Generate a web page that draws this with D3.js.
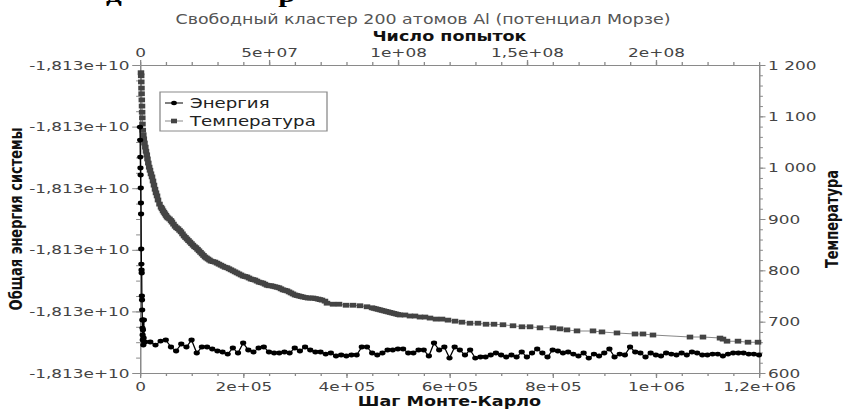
<!DOCTYPE html>
<html>
<head>
<meta charset="utf-8">
<script src="https://d3js.org/d3.v7.min.js"></script>
<style>
  body { margin: 0; background: white; }
  svg { display: block; }
</style>
</head>
<body>
<script>
// ---- data ----
const energySteps = [0, 300, 600, 900, 1200, 1500, 1800, 2100, 2400, 2700, 3000, 3300, 3600, 3900, 4200, 4500, 4800, 5100, 5400, 5700, 6000, 6500, 7000, 7500, 8000,
  10000, 20000, 30000, 40000, 50000, 60000, 70000, 80000, 90000, 100000,
  110000, 120000, 130000, 140000, 150000, 160000, 170000, 180000, 190000, 200000,
  210000, 220000, 230000, 240000, 250000, 260000, 270000, 280000, 290000, 300000,
  310000, 320000, 330000, 340000, 350000, 360000, 370000, 380000, 390000, 400000,
  410000, 420000, 430000, 440000, 450000, 460000, 470000, 480000, 490000, 500000,
  510000, 520000, 530000, 540000, 550000, 560000, 570000, 580000, 590000, 600000,
  610000, 620000, 630000, 640000, 650000, 660000, 670000, 680000, 690000, 700000,
  710000, 720000, 730000, 740000, 750000, 760000, 770000, 780000, 790000, 800000,
  810000, 820000, 830000, 840000, 850000, 860000, 870000, 880000, 890000, 900000,
  910000, 920000, 930000, 940000, 950000, 960000, 970000, 980000, 990000, 1000000,
  1010000, 1020000, 1030000, 1040000, 1050000, 1060000, 1070000, 1080000, 1090000, 1100000,
  1110000, 1120000, 1130000, 1140000, 1150000, 1160000, 1170000, 1180000, 1190000, 1200000];

const energyValues = [-18130010070, -18130012180, -18130014940, -18130016720, -18130017860, -18130019970, -18130022400, -18130024190,
  -18130029870, -18130032310, -18130033280, -18130033770, -18130037500, -18130038150, -18130039770, -18130041400,
  -18130042700, -18130043830, -18130044640, -18130043020, -18130041400, -18130045460, -18130044320, -18130041400, -18130044970,
  -18130044970, -18130044970, -18130045460, -18130044810, -18130044640, -18130045780, -18130046430, -18130045290, -18130045780, -18130044640,
  -18130046750, -18130045780, -18130045780, -18130046100, -18130046430, -18130046590, -18130046920, -18130045940, -18130046750, -18130045130,
  -18130046270, -18130046590, -18130045940, -18130045780, -18130046590, -18130046750, -18130046750, -18130046590, -18130046750, -18130045940,
  -18130046430, -18130045780, -18130046270, -18130046590, -18130046590, -18130046920, -18130046750, -18130047240, -18130047080, -18130047240,
  -18130047080, -18130047080, -18130045780, -18130045780, -18130046750, -18130047080, -18130046750, -18130046270, -18130046270, -18130046100,
  -18130046100, -18130046750, -18130046750, -18130046270, -18130046270, -18130047240, -18130045130, -18130046270, -18130045780, -18130047570,
  -18130045780, -18130046270, -18130047080, -18130046270, -18130047570, -18130047400, -18130047400, -18130047080, -18130046750, -18130047080,
  -18130047400, -18130047080, -18130047400, -18130046590, -18130047400, -18130046750, -18130046100, -18130046750, -18130047400, -18130046270,
  -18130046430, -18130046750, -18130046590, -18130046920, -18130047240, -18130046750, -18130047570, -18130046920, -18130047240, -18130046750,
  -18130046100, -18130047400, -18130046920, -18130047080, -18130045780, -18130046590, -18130046750, -18130047400, -18130046750, -18130047080,
  -18130047240, -18130046750, -18130046920, -18130047080, -18130046750, -18130047080, -18130046590, -18130046750, -18130047080, -18130047080,
  -18130046920, -18130046920, -18130047240, -18130046920, -18130046750, -18130046750, -18130046750, -18130046920, -18130046920, -18130047080];

const tempSteps = [1900, 2300, 2500, 2900, 3100, 3500, 3900, 4100, 4500, 4800, 5400, 6400, 7400, 8700, 10300, 11600, 13200, 14500, 16100, 17800,
  19400, 21300, 23300, 25200, 27100, 29100, 31000, 33000, 34900, 37800, 40700, 42600, 44600, 46500, 48500, 50400, 52300, 54300, 57200, 60100,
  62000, 64900, 67900, 70800, 73700, 76600, 79500, 82400, 85300, 88200, 91100, 94000, 96900, 99800, 102700, 105700, 108600, 111500, 114400, 117300,
  120200, 123100, 126000, 128900, 131800, 134700, 137600, 141500, 145400, 149300, 153100, 157000, 160900, 164800, 168700, 172500, 176400, 180300, 184200, 188000,
  191900, 195800, 199700, 203600, 207400, 211300, 215200, 219100, 222900, 226800, 230700, 234600, 238400, 242300, 246200, 250100, 254000, 257800, 261700, 265600,
  269500, 273300, 277200, 281100, 285000, 288900, 292700, 296600, 300500, 304400, 308200, 312100, 316000, 320800, 325700, 330500, 335400, 340200, 345100, 348900,
  352800, 358600, 362500, 374200, 385800, 399400, 412900, 426500, 440100, 449800, 453600, 457500, 461400, 465300, 469100, 473000, 476900, 480800, 484700, 488500,
  492400, 496300, 500200, 504000, 513700, 523400, 533100, 542800, 552500, 562200, 573800, 585500,
  597100, 610700, 624200, 639700, 655200, 670800, 686300, 703700, 723100, 740500, 756100, 775400, 800600, 814200, 827800, 847200, 878200, 895600, 924700, 959600,
  975100, 994500, 1066200, 1091400, 1124400, 1130200, 1138000, 1159300, 1178700, 1198100];

const tempValues = [1185, 1179, 1167, 1155, 1144, 1132, 1120, 1108, 1097, 1085, 1073, 1064, 1056, 1048, 1040, 1032, 1025, 1017, 1009, 1001,
  995, 988, 982, 974, 966, 958, 951, 945, 937, 929, 923, 920, 916, 913, 910, 907, 904, 902, 900, 897,
  894, 890, 886, 883, 881, 878, 875, 871, 867, 864, 861, 858, 855, 852, 849, 846, 844, 841, 838, 835,
  832, 829, 826, 824, 822, 820, 818, 817, 816, 814, 812, 810, 808, 806, 805, 803, 801, 799, 797, 795,
  793, 791, 789, 788, 787, 785, 783, 782, 781, 779, 777, 776, 775, 773, 771, 770, 770, 769, 768, 767,
  766, 764, 762, 761, 760, 758, 756, 754, 752, 751, 750, 749, 748, 747, 746, 746, 746, 745, 744, 743,
  742, 740, 736, 734, 734, 732, 732, 731, 729, 727, 726, 725, 724, 723, 722, 721, 720, 719, 718, 717,
  716, 715, 714, 713, 713, 711, 711, 709, 709, 707, 705, 705,
  703, 701, 699, 697, 697, 695, 695, 694, 692, 690, 690, 688, 688, 686, 684, 682, 682, 680, 678, 676,
  676, 674, 670, 670, 668, 666, 662, 662, 660, 660];

const stepTicks = [0, 200000, 400000, 600000, 800000, 1000000, 1200000];
const tryTicks = [0, 50000000, 100000000, 150000000, 200000000];
const energyTicks = [-18130050000, -18130040000, -18130030000, -18130020000, -18130010000, -18130000000];
const tempTicks = [600, 700, 800, 900, 1000, 1100, 1200];

const legendNames = ["Энергия", "Температура"];

// ---- layout ----
const width = 846, height = 409;
const sx = 1.3;            // the picture is stretched sideways
const W = width / sx;
const mLeft = 140 / sx, mRight = 759 / sx, mTop = 65, mBottom = 373;
const axisGrey = "#8a8a8a", textGrey = "#444";

const svg = d3.select("body").append("svg").attr("width", width).attr("height", height);
svg.append("rect").attr("width", width).attr("height", height).attr("fill", "white");
const g = svg.append("g").attr("transform", `scale(${sx},1)`);

const x = d3.scaleLinear().domain([0, 1200000]).range([mLeft, mRight]);
const xTop = d3.scaleLinear().domain([0, 240000000]).range([mLeft, mRight]);
const yE = d3.scaleLinear().domain([-18130050000, -18130000000]).range([mBottom, mTop]);
const yT = d3.scaleLinear().domain([600, 1200]).range([mBottom, mTop]);

// formats
function sci(d) {
  if (d === 0) return "0";
  let s = d3.format("~e")(d);
  s = s.replace(/e([+-])(\d)$/, "e$10$2");
  return s.replace(".", ",");
}
const fmtE = d => d3.format(".3e")(d).replace(".", ",").replace("\u2212", "-");
const fmtT = d => d3.format(",")(d).replace(",", " ");

function styleAxis(sel) {
  sel.selectAll("path.domain").attr("stroke", axisGrey).attr("stroke-width", 1);
  sel.selectAll(".tick line").attr("stroke", axisGrey);
  sel.selectAll(".tick text").attr("fill", textGrey)
    .style("font-family", "'DejaVu Sans', sans-serif").style("font-size", "13px");
}

// minor ticks first
g.append("g").attr("transform", `translate(0,${mBottom})`)
  .call(d3.axisBottom(x).tickValues(d3.range(0, 1200001, 50000)).tickSize(3).tickSizeOuter(0).tickFormat(""))
  .call(styleAxis);
g.append("g").attr("transform", `translate(0,${mTop})`)
  .call(d3.axisTop(xTop).tickValues(d3.range(0, 240000001, 10000000)).tickSize(3).tickSizeOuter(0).tickFormat(""))
  .call(styleAxis);
g.append("g").attr("transform", `translate(${mLeft},0)`)
  .call(d3.axisLeft(yE).tickValues(d3.range(0, 21).map(i => -18130050000 + i * 2500)).tickSize(3).tickSizeOuter(0).tickFormat(""))
  .call(styleAxis);
g.append("g").attr("transform", `translate(${mRight},0)`)
  .call(d3.axisRight(yT).tickValues(d3.range(600, 1201, 20)).tickSize(3).tickSizeOuter(0).tickFormat(""))
  .call(styleAxis);

// major axes
g.append("g").attr("transform", `translate(0,${mBottom})`)
  .call(d3.axisBottom(x).tickValues(stepTicks).tickSize(5).tickPadding(4).tickSizeOuter(0).tickFormat(sci))
  .call(styleAxis);
g.append("g").attr("transform", `translate(0,${mTop})`)
  .call(d3.axisTop(xTop).tickValues(tryTicks).tickSize(5).tickPadding(3).tickSizeOuter(0).tickFormat(sci))
  .call(styleAxis);
g.append("g").attr("transform", `translate(${mLeft},0)`)
  .call(d3.axisLeft(yE).tickValues(energyTicks).tickSize(6).tickPadding(2).tickSizeOuter(0).tickFormat(fmtE))
  .call(styleAxis);
g.append("g").attr("transform", `translate(${mRight},0)`)
  .call(d3.axisRight(yT).tickValues(tempTicks).tickSize(5).tickPadding(2).tickSizeOuter(0).tickFormat(fmtT))
  .call(styleAxis);

// temperature series
const tempData = tempSteps.map((s, i) => [s, tempValues[i]]);
g.append("path").datum(tempData)
  .attr("fill", "none").attr("stroke", "#888").attr("stroke-width", 1)
  .attr("d", d3.line().x(d => x(d[0])).y(d => yT(d[1])));
g.append("g").selectAll("rect").data(tempData).join("rect")
  .attr("x", d => x(d[0]) - 2.5).attr("y", d => yT(d[1]) - 2.4)
  .attr("width", 5).attr("height", 4.8).attr("fill", "#444");

// energy series
const energyData = energySteps.map((s, i) => [s, energyValues[i]]);
g.append("path").datum(energyData)
  .attr("fill", "none").attr("stroke", "#000").attr("stroke-width", 1)
  .attr("d", d3.line().x(d => x(d[0])).y(d => yE(d[1])));
g.append("g").selectAll("circle").data(energyData).join("circle")
  .attr("cx", d => x(d[0])).attr("cy", d => yE(d[1])).attr("r", 2.4).attr("fill", "#000");

// legend
const lg = g.append("g");
lg.append("rect").attr("x", 160 / sx).attr("y", 92).attr("width", 167 / sx).attr("height", 39)
  .attr("fill", "white").attr("stroke", axisGrey).attr("stroke-width", 1);
legendNames.forEach((name, i) => {
  const ly = 103 + i * 18;
  lg.append("line").attr("x1", 165 / sx).attr("x2", 183 / sx).attr("y1", ly).attr("y2", ly)
    .attr("stroke", i === 0 ? "#000" : "#888");
  if (i === 0) {
    lg.append("circle").attr("cx", 174 / sx).attr("cy", ly).attr("r", 2.2).attr("fill", "#000");
  } else {
    lg.append("rect").attr("x", 174 / sx - 2.3).attr("y", ly - 2.3).attr("width", 4.6).attr("height", 4.6).attr("fill", "#444");
  }
  lg.append("text").attr("x", 190 / sx).attr("y", ly + 5).text(name)
    .attr("fill", "#222").style("font-family", "'DejaVu Sans', sans-serif").style("font-size", "14px");
});

// titles
const cx = (mLeft + mRight) / 2;
g.append("text").attr("x", W / 2).attr("y", 24).attr("text-anchor", "middle")
  .attr("fill", "#555").style("font-family", "'DejaVu Sans', sans-serif").style("font-size", "13.4px")
  .text("Свободный кластер 200 атомов Al (потенциал Морзе)");
g.append("text").attr("x", cx).attr("y", 41).attr("text-anchor", "middle")
  .attr("fill", "#111").style("font-family", "'DejaVu Sans', sans-serif").style("font-weight", "bold").style("font-size", "13.5px")
  .text("Число попыток");
g.append("text").attr("x", cx).attr("y", 406).attr("text-anchor", "middle")
  .attr("fill", "#111").style("font-family", "'DejaVu Sans', sans-serif").style("font-weight", "bold").style("font-size", "13.5px")
  .text("Шаг Монте-Карло");
g.append("text").attr("transform", `translate(${22 / sx},${(mTop + mBottom) / 2}) rotate(-90)`)
  .attr("text-anchor", "middle")
  .attr("fill", "#111").style("font-family", "'DejaVu Sans', sans-serif").style("font-weight", "bold").style("font-size", "13px")
  .text("Общая энергия системы");
g.append("text").attr("transform", `translate(${838 / sx},${(mTop + mBottom) / 2}) rotate(-90)`)
  .attr("text-anchor", "middle")
  .attr("fill", "#111").style("font-family", "'DejaVu Sans', sans-serif").style("font-weight", "bold").style("font-size", "13px")
  .text("Температура");

// fragments of a heading cut off at the top edge
g.append("text").attr("x", 114 / sx).attr("y", 2).attr("text-anchor", "middle")
  .style("font-family", "'Liberation Serif', serif").style("font-weight", "bold").style("font-size", "24px")
  .attr("fill", "#000").text("д");
g.append("text").attr("x", 287 / sx).attr("y", 2).attr("text-anchor", "middle")
  .style("font-family", "'Liberation Serif', serif").style("font-weight", "bold").style("font-size", "24px")
  .attr("fill", "#000").text("р");
</script>
</body>
</html>
